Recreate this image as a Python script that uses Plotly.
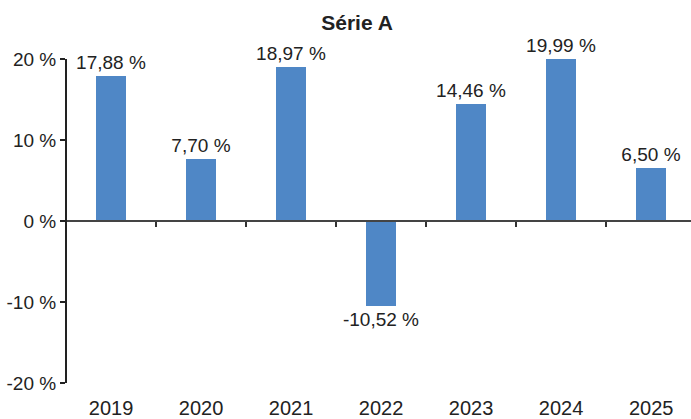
import plotly.graph_objects as go

years = ["2019", "2020", "2021", "2022", "2023", "2024", "2025"]
values = [17.88, 7.70, 18.97, -10.52, 14.46, 19.99, 6.50]
ytick_vals = [-20, -10, 0, 10, 20]
ytick_text = ["-20 %", "-10 %", "0 %", "10 %", "20 %"]
title_text = "Série A"

labels = [f"{v:.2f}".replace(".", ",") + " %" for v in values]

W, H = 691, 419
FONT = "Liberation Sans, Arial, sans-serif"
TXT = "#222222"

fig = go.Figure()
fig.add_trace(go.Bar(
    x=years, y=values, width=0.333,
    marker=dict(color="#4f87c6", line=dict(width=0)),
    text=labels, textposition="outside", cliponaxis=False, constraintext="none",
    textfont=dict(family=FONT, size=19, color=TXT),
    showlegend=False, hoverinfo="skip",
))
# helper trace for the zero-position axis carrying ticks between categories
fig.add_trace(go.Scatter(
    x=years, y=[0] * len(years), xaxis="x2", mode="markers",
    marker=dict(opacity=0), showlegend=False, hoverinfo="skip",
))

xr = [-0.49, 6.443]
fig.update_layout(
    width=W, height=H,
    margin=dict(l=67, r=0, t=59, b=36, autoexpand=False),
    paper_bgcolor="white", plot_bgcolor="white",
    font=dict(family=FONT, color=TXT),
    title=dict(text=f"<b>{title_text}</b>", xref="container", yref="container",
               x=357 / W, xanchor="center", y=1 - 23 / H, yanchor="middle",
               font=dict(family="Liberation Sans Narrow, Arial Narrow, Liberation Sans, sans-serif",
                         size=21, color=TXT)),
    xaxis=dict(type="category", categoryorder="array", categoryarray=years,
               range=xr, showline=False, showgrid=False, zeroline=False, automargin=False,
               ticks="outside", ticklen=7, tickcolor="rgba(0,0,0,0)",
               tickfont=dict(family=FONT, size=20, color=TXT)),
    xaxis2=dict(type="category", categoryorder="array", categoryarray=years,
                range=xr, overlaying="x", anchor="free", position=0.5, automargin=False,
                showline=True, linecolor="#444444", linewidth=1.5,
                ticks="outside", tickson="boundaries", ticklen=5, tickwidth=1.5,
                tickcolor="#333333", showticklabels=False, showgrid=False, zeroline=False),
    yaxis=dict(range=[-20, 20], tickvals=ytick_vals, ticktext=ytick_text, automargin=False,
               showline=True, linecolor="#222222", linewidth=2,
               ticks="outside", ticklen=5, tickwidth=2, tickcolor="#222222",
               showgrid=False, zeroline=False,
               tickfont=dict(family=FONT, size=19, color=TXT)),
    bargap=0,
)

fig.write_html("out.html", config={"displayModeBar": False},
               post_script="document.body.style.margin='0';document.body.style.overflow='hidden';")
